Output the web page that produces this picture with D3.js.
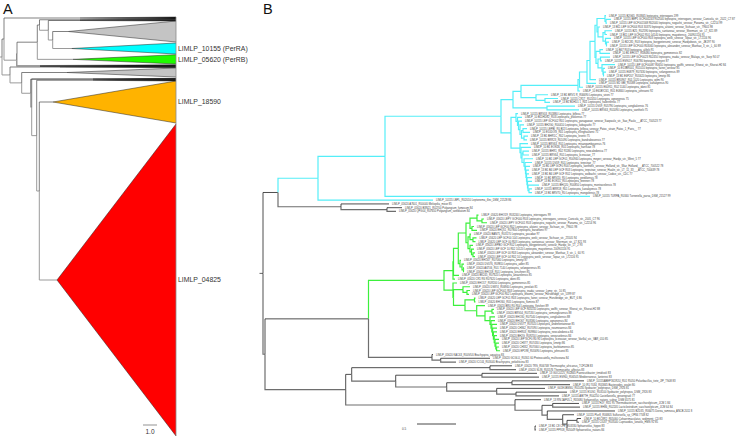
<!DOCTYPE html>
<html>
<head>
<meta charset="utf-8">
<script src="https://cdn.jsdelivr.net/npm/d3@7"></script>
<style>
  html, body { margin: 0; padding: 0; background: #fff; }
  svg { display: block; font-family: "Liberation Sans", sans-serif; }
</style>
</head>
<body>
<div id="chart"></div>
<script>
// Panel A : collapsed tree. Depth unit: 14 = the 1.0 scale bar
const aNodeId = ['r', 't', 's2', 's1', 'p', 'q', 'm', 'n', 'lo', 'h', 'i', 'j', 'k', 'e'];
const aNodeParent = ['', 'r', 't', 's2', 's1', 'p', 'q', 'm', 'r', 'lo', 'h', 'i', 'j', 'k'];
const aNodeDepth = [0, 2, 14.5, 15, 35.3, 37.5, 46.3, 50.7, 8, 19.7, 28.7, 29.7, 34.7, 37.3];

// collapsed clades: parent, apex depth, first and last tip position
const aCladeParent = ['t', 'q', 'm', 'n', 'n', 'p', 's1', 's2', 'lo', 'h', 'j', 'i', 'k', 'e', 'e'];
const aCladeDepth = [78, 78, 78, 66.3, 69.7, 71, 38, 38, 58, 65, 91, 91, 91, 51, 55];
const aCladeTop = [0, 2.3, 3, 4, 26, 37.7, 47.8, 48.8, 49.5, 51, 61.3, 61.5, 62.5, 64, 107];
const aCladeBottom = [2, 3.2, 4, 25, 37, 47, 49.3, 50.2, 50.5, 60, 62.5, 63, 64, 106, 419];
const aCladeFill = ['#111', '#111', '#111', '#c4c4c4', '#00ffff', '#1ffb00', '#111', '#111', '#111', '#c4c4c4', '#111', '#111', '#111', '#ffb300', '#ff0000'];
const aCladeLabel = ['', '', '', '', 'LIMLP_10155 (PerRA)', 'LIMLP_05620 (PerRB)', '', '', '', '', '', '', '', 'LIMLP_18590', 'LIMLP_04825'];
const aTipDepth = 174;

// Panel B : full tree. Depth unit: 39 = the 0.5 scale bar
const bNodeId = ['r', 'u', 'c318', 'c385', 'c501', 'c513', 'c521', 'c578', 'c580', 'c587', 'c590', 'c595', 'c597', 'c605', 'c606', 'c598', 'c603', 'c605b', 'c606b', 'c608', 'c596', 'c600', 'c598b', 'c600c', 'c602d', 'c604', 'c604b', 'c536', 'c545', 'c547', 'c511',
  'a0', 'a1', 'a2', 'a3', 'a4', 'a5', 'a6',
  'b0', 'b1', 'b2', 'b3', 'b4', 'b5', 'b6', 'b7', 'b8', 'b9', 'b10', 'b11', 'b12',
  'k341', 'k387', 'v', 'w368',
  'g444', 'g453', 'g454', 'g458', 'g466', 'g470', 'g477', 'g482', 'g472', 'g468', 'g470c', 'g473', 'g472b', 'g472c', 'g473d', 'g460', 'g462', 'g463',
  'g453c', 'g453b', 'g463b', 'g467', 'g465', 'g475', 'g477b', 'g485', 'g492', 'g490', 'l1', 'l2', 'l3', 'l4', 'l5', 'l6', 'l7', 'l8',
  'b432', 'b441', 'o345', 'o352', 'o490', 'o396', 'o482', 'o447', 'o512', 'o497', 'o516', 'o515', 'o542', 'o553', 'o547', 'o562', 'o567', 'o578', 'o535'];
const bNodeParent = ['', 'r', 'u', 'c318', 'c385', 'c501', 'c513', 'c521', 'c578', 'c580', 'c587', 'c590', 'c595', 'c597', 'c605', 'c597', 'c598', 'c603', 'c603', 'c606b', 'c595', 'c596', 'c596', 'c598b', 'c598b', 'c602d', 'c604', 'c521', 'c536', 'c513', 'c501',
  'c511', 'a0', 'a1', 'a2', 'a3', 'a4', 'a4',
  'c511', 'b0', 'b1', 'b2', 'b2', 'b4', 'b5', 'b6', 'b7', 'b8', 'b9', 'b10', 'b11',
  'u', 'k341', 'r', 'v',
  'w368', 'g444', 'g453', 'g454', 'g458', 'g466', 'g470', 'g477', 'g470', 'g466', 'g468', 'g470c', 'g468', 'g472b', 'g472c', 'g458', 'g460', 'g462',
  'g444', 'g453c', 'g453b', 'g463b', 'g453b', 'g465', 'g465', 'g477b', 'g485', 'g485', 'g490', 'l1', 'l2', 'l3', 'l4', 'l5', 'l6', 'l7',
  'w368', 'b432', 'v', 'o345', 'o352', 'o352', 'o396', 'o396', 'o447', 'o447', 'o497', 'o345', 'o515', 'o542', 'o542', 'o547', 'o562', 'o567', 'o567'];
const bNodeDepth = [0, 15, 55, 122, 238, 250, 258, 315, 316.5, 324, 327, 332, 334, 342, 343, 335, 340, 342, 342.5, 343.5, 333, 337, 335, 337.5, 339, 340, 340.5, 273, 282, 284, 248,
  253, 254.5, 255.5, 257, 258.5, 260, 261,
  257, 258, 259, 260, 261, 262, 262.5, 263, 263.5, 264, 264.5, 265, 266,
  78, 124, 2, 105.5,
  181, 190, 190.5, 195.3, 203, 207, 214, 219, 209, 205, 207, 210, 207, 208.5, 210, 197, 199, 200.5,
  190, 190.5, 200, 204, 202, 211.5, 213.7, 222, 229, 227, 228, 228.8, 229.6, 230.4, 231.2, 232, 232.8, 233.6,
  169, 177.7, 82.7, 88.7, 227, 132.7, 219, 183.7, 249, 233.7, 253, 252, 279, 289.7, 284.3, 299.7, 304, 314, 272];

// one entry per tip, top to bottom
const bLeafParent = ['c605', 'c606', 'c606', 'c598', 'c605b', 'c605b', 'c606b', 'c608', 'c608', 'c600', 'c600', 'c600c', 'c600c', 'c602d', 'c604', 'c604b', 'c604b', 'c590', 'c587', 'c580', 'c578', 'c536', 'c545', 'c545', 'c547', 'c547',
  'a0', 'a1', 'a2', 'a3', 'a5', 'a5', 'a6', 'a6', 'b0', 'b1', 'b3', 'b3', 'b4', 'b5', 'b6', 'b7', 'b8', 'b9', 'b10', 'b11', 'b12', 'b12', 'c385', 'c318', 'k341', 'k387', 'k387',
  'g477', 'g482', 'g482', 'g472', 'g472', 'g470c', 'g473', 'g473', 'g472b', 'g472c', 'g473d', 'g473d', 'g460', 'g462', 'g463', 'g463', 'g454', 'g453', 'g453c',
  'g463b', 'g467', 'g467', 'g475', 'g475', 'g477b', 'g492', 'g492', 'g490', 'l1', 'l2', 'l3', 'l4', 'l5', 'l6', 'l7', 'l8', 'l8',
  'b432', 'b441', 'b441', 'o490', 'o490', 'o482', 'o482', 'o512', 'o512', 'o497', 'o516', 'o516', 'o515', 'o553', 'o553', 'o547', 'o562', 'o578', 'o578', 'o535', 'o535'];
const bLeafDepth = [343, 348, 344, 337, 349, 344, 348, 346, 344, 340, 347, 347, 339, 352, 342, 343, 341, 333, 333, 320, 317, 285, 295, 287, 312, 316,
  255, 259, 259, 261, 264, 267, 265, 264, 265, 268, 266, 266, 270, 269, 267, 266, 266, 269, 269, 276, 269, 269, 327, 170, 126, 139, 133,
  215.5, 221, 224, 211, 214, 208, 213.5, 212.5, 210, 211, 212, 212, 198, 201, 201, 201, 196, 192, 194,
  207, 207, 206, 212.5, 212.5, 222, 231, 231, 232, 232, 234, 234, 234, 234, 236, 236, 236, 237,
  170, 227, 193, 249, 253, 274, 276, 321, 307, 282, 304, 296, 278, 316, 317, 352, 311, 318, 316, 273, 273];
const bLeafLabel = [
  'LIMLP_10155 B2G65_R03845 leptospira_interrogans 199',
  'LIMLP_10155 BEP1 GCF000243 R02040 leptospira_interrogans_serovar_Canicola_str._2022_CT 87',
  'LIMLP_10155 LEP GCF001568 R02040 leptospira_noguchii_serovar_Panama_str._CZ214 99',
  'LIMLP_13 B11 LEP GCF004 R03 30370 leptospira_alstonii_serovar_Sichuan_str._79601 98',
  'LIMLP_10155 B25_R02590 leptospira_santarosai_serovar_Shermani_str._LT_821 89',
  'LIMLP_13 B11 LEP GCF002 R01 04140 leptospira_mayottensis_200901116 91',
  'LIMLP_10155 LEP GCF000 R03 leptospira_weilii_serovar_Topaz_str._LT2116 96',
  'LIMLP_10 B2C85_R03 leptospira_borgpetersenii_serovar_Hardjobovis_str._JB197 90',
  'LIMLP_10155 LEP GCF000 R03060 leptospira_alexanderi_serovar_Manhao_3_str._L_60 89',
  'LIMLP_10 B47 R03 leptospira_alifelii 91',
  'LIMLP_10 B1 EHO17_R08480 leptospira_gomenensis 82',
  'LIMLP_10155 LEP GCF0023 R02450 leptospira_inadai_serovar_Malaya_str._Sarp 94 07',
  'LIMLP_10155 ES9017_R06780 leptospira_meyeri 87',
  'LIMLP_10155 LEP GCF00087 R0650 leptospira_wolffii_serovar_Khorat_str._Khorat-H2 84',
  'LIMLP_10 E13BR001_R01010 leptospira_fainei_serovar 85',
  'LIMLP_10155 E6879_R07430 leptospira_selangorensis 89',
  'LIMLP_13 B1 E6P207_R05620 leptospira_kmetyi 86',
  'LIMLP_10155 BR0967_R01 1020 Leptospira_wilmi 90',
  'LIMLP_10155 M2 GBI_R0588 Leptospira_kanakyensis 90',
  'LIMLP_10155 E60911_R02 5140 Leptospira_idonii 81',
  'LIMLP_10 E61BY241_R01 E0840 Leptospira_johnsonii 92',
  'LIMLP_13 B1 BRV1 R_R06690 Leptospira_sironi 77',
  'LIMLP_10155 CR1T_R02450 Leptospira_ognonensis 75',
  'LIMLP_13 B1 B1HD1 1_R01 Leptospira_halleinensis 77',
  'LIMLP_10155 DV09_R05790 Leptospira_congkakensis 76',
  'LIMLP_10155 BRV63_R01090 Leptospira_vanthielii 75',
  'LIMLP_10155 BRV03_R01880 Leptospira_biflexa 77',
  'LIMLP_10 B11HD82_R03 Leptospira_jelokensis 77',
  'LIMLP_10155 LEP GCF002 R01 Leptospira_yanagawae_serovar_Saopaulo_str._Sao_Paulo___ATCC_700523 77',
  'LIMLP_10155 BH2G0_R00410 Leptospira_kobayashii 77',
  'LIMLP_10155 LEPBI_R0 B13 Leptospira_biflexa_serovar_Patoc_strain_Patoc_1_Paris__ 77',
  'LIMLP_10 E10DOG_R01 Leptospira_ellinghausenii 75',
  'LIMLP_13 B1 BHR1C_R02 Leptospira_levettii 75',
  'LIMLP_10155 BRR23_R01090 Leptospira_bandrabouensis 77',
  'LIMLP_10155 BRV63_R01 Leptospira_mtsangambouensis 76',
  'LIMLP_10 B1 EOK06_R01 Leptospira_harrisiae 78',
  'LIMLP_10155 BHR1_R02 91180 Leptospira_neocaledonica 77',
  'LIMLP_10155 BRV64_R01 Leptospira_licerasiae_77',
  'LIMLP_10 B1 LEP GCF01_R00940 Leptospira_meyeri_serovar_Hardjo_str._Went_5 77',
  'LIMLP_10155 DV09_R01 Leptospira_terpstrae_77',
  'LIMLP_10 B1 LEP GCF0 R00 Leptospira_vanthielii_serovar_Holland_str._Waz_Holland___ATCC_700522 78',
  'LIMLP_13 B1 B4 LEP GCF R03 Leptospira_terpstrae_serovar_Hualin_str._LT_11_33___ATCC_700639 78',
  'LIMLP_13 B1 B4 LEP GCF R02 Leptospira_wolbachii_serovar_Codice_str._CDC 77',
  'LIMLP_10 B1 BRV20_R0 Leptospira_perdikensis 78',
  'LIMLP_13 B1 EOK51_R0 Leptospira_brenneri 78',
  'LIMLP_10155 BHQ20_R00850 Leptospira_montravelensis 78',
  'LIMLP_10155 BRR18_R01 Leptospira_kanakyensis 78',
  'LIMLP_13 B1 BRV70_R0 Leptospira_mongolensis 78',
  'LIMLP_10155 TURPA_R0340 Turneriella_parva_DSM_21527 99',
  'LIMLP_10155 LBPL_R02010 Leptonema_illini_DSM_21528 86',
  'LIMLP_05620 A7601_R00040 Meliopilia_mixor 85',
  'LIMLP_05620 B3N21_R02700 Polyangium_fumosum 84',
  'LIMLP_05620 QPG04_R07650 Polyangium_sorediatum 84',
  'LIMLP_05620 EHO19_R03240 Leptospira_interrogans 99',
  'LIMLP_05620 LEPY GCF000 R03 Leptospira_interrogans_serovar_Canicola_str._2005_CT 96',
  'LIMLP_05620 LEPY GCF001 R03 Leptospira_noguchii_serovar_Panama_str._CZ214 96',
  'LIMLP_05620 LEP GCF00 R02 Leptospira_alstonii_serovar_Sichuan_str._79601 98',
  'LIMLP_05620 EHQ51_R07800 Leptospira_barantonii 97',
  'LIMLP_05620 BAN75_R03170 Leptospira_yasudae 97',
  'LIMLP_05620 LEP GCF00 104 Leptospira_weilii_serovar_Sichuan_str._25505 94',
  'LIMLP_05620 LEP GCF 00 R03 Leptospira_santarosai_serovar_Shermani_str._LT 821 93',
  'LIMLP_05620 LEPBO GCF R02 Leptospira_borgpetersenii_serovar_Hardjo_str._LT_2 93',
  'LIMLP_05620 LEP GCF 10 R02 10120 Leptospira_mayottensis 200901116 91',
  'LIMLP_05620 LEP GCF 00 R03 Leptospira_alexanderi_serovar_Manhao_3_str._L_60 91',
  'LIMLP_05620 LEP GCF 04 R02 10 Leptospira_weilii_serovar_Topaz_str._LT2116 91',
  'LIMLP_05620 EHO47_R07060 Leptospira_kmetyi 87',
  'LIMLP_05620 DV076_R09810 Leptospira_adleri 85',
  'LIMLP_05620 A6T06_R01 7140 Leptospira_selangorensis 85',
  'LIMLP_05620 EHO18_R01 Leptospira_kirschneri 85',
  'LIMLP_05620 BK245_R07620 Leptospira_ainazelensis 85',
  'LIMLP_05620 CR1 R6 R07620 Leptospira_idonii 85',
  'LIMLP_05620 EHO17_R09200 Leptospira_gomenensis 85',
  'LIMLP_05620 DS874_R06940 Leptospira_perolatii 81',
  'LIMLP_05620 LEP GCF001 R03 Leptospira_inadai_serovar_Lyme_str._10 85',
  'LIMLP_05620 LEP GCF00 R02 Leptospira_broomii_serovar_Hurstbridge_str._5399 87',
  'LIMLP_05620 LEP GCF01 R03 Leptospira_fainei_serovar_Hurstbridge_str._BUT_6 86',
  'LIMLP_05620 EHO60_R05 Leptospira_fluminis 87',
  'LIMLP_05620 BR0 R0 R04 Leptospira_fletcheri 89',
  'LIMLP_05620 LEP GCF R03250 Leptospira_wolffii_serovar_Khorat_str._Khorat-H2 88',
  'LIMLP_05620 BRV04_R07130 Leptospira_semungkisensis 88',
  'LIMLP_05620 EHO30_R07540 Leptospira_congkakensis 88',
  'LIMLP_05620 EHO67_R03580 Leptospira_ognonensis 84',
  'LIMLP_05620 DV077_R07020 Leptospira_andrefontaineae 85',
  'LIMLP_05620 CH362_R07090 Leptospira_noumeaensis 84',
  'LIMLP_05620 EHR03_R09860 Leptospira_neocaledonica 84',
  'LIMLP_05620 BH2G_R09250 Leptospira_venezuelensis 84',
  'LIMLP_05620 LEP GCF0 R0 90 Leptospira_licerasiae_serovar_Varillal_str._VAR_010 85',
  'LIMLP_05620 CH377_R07430 Leptospira_kmetyi 86',
  'LIMLP_05620 CH332_R07060 Leptospira_barbitamensis 85',
  'LIMLP_05620 EP198_R05690 Leptospira_johnsonii 85',
  'LIMLP_05620 KAC63_R00VU0 Brachyspira_aquatica 83',
  'LIMLP_05620 GCGLU_R0301 60 Proteocatella_multivorana 84',
  'LIMLP_05620 ICOJ4_R03040 Brachyspira_pekoliticina 83',
  'LIMLP_05620 TRS_R06748 Thermosipho_africanus_TCF52B 83',
  'LIMLP_05620 SLIN_R05576 Thermosipho_affectus 83',
  'LIMLP_13 GUC0225_R02845 Paenicutibacter_timidivoli 83',
  'LIMLP_10155 ES960_R06505 Mediterraneus_lanterinii 83',
  'LIMLP_10155ABEP361RJU_R01 95050 Polaribacillus_tiete_JIP_TS08 83',
  'LIMLP_10 IRJ 7034_R05845 Bacteroides_oxalet 80',
  'LIMLP_G01E0BSNU_R01030 Ilyobacter_polytropus_DSM_2926 81',
  'LIMLP_10155 E10S1_R03100 Ilyobacter_polytropus_DSM_2926 83',
  'LIMLP_10155 AB7TH_R04250 Castellaniella_ginsengisoli 77',
  'LIMLP_13 RN.5AP05.1_R05680 Sphaerotilus_natans_subsp_DSM 6575 81',
  'LIMLP_10155 HJY_R01 95 Thermobacterium_saccharolyticum_JCM 1 84',
  'LIMLP_10155 EH86_R02205 Lacticlostridium_saccharolyticum_JCM 64 84',
  'LIMLP_10155 B2D35_R06475 Dorea_ramnosa_ANCB 2011 8',
  'LIMLP_10155 Plur8_R06805 Sulfuricella_sp_OP84 7748 82',
  'LIMLP_10 B1C8R2_R05060 Cohaerimaculatus_sedimenti_CD 83',
  'LIMLP_10155 CIU37_R03540 Cupriavidus_lunatus_HMS 92 85',
  'LIMLP_13 B1 C8 CFE_R03330 Sphaerotilus_hippei 83',
  'LIMLP_10155 PP9J8_R05049 Sphaerotilus_natans 84'];
// scale bars
const aBarLength = 14;
const aBarLabel = '1.0';
const bBarLength = 39;
const bBarLabel = '0.5';

const width = 737;
const height = 437;
const svg = d3.select('#chart').append('svg').attr('width', width).attr('height', height);

// fonction commune : stratify, then node height = middle of its children
function layoutTree(rows, y) {
  const root = d3.stratify().id(d => d.id).parentId(d => d.parent)(rows);
  root.eachAfter(n => {
    if (n.children) {
      const e = d3.extent(n.children, c => c.py);
      n.py = (e[0] + e[1]) / 2;
    } else {
      n.py = y(n.data.row);
    }
  });
  return root;
}

function elbow(n, x) {
  const px = x(n.parent.data.depth);
  // a tip drawn left of its parent keeps only the vertical part
  const end = n.data.depth > n.parent.data.depth ? `H${x(n.data.depth)}` : '';
  return `M${px},${n.parent.py}V${n.py}${end}`;
}

function drawBranches(g, root, x, style) {
  const links = root.descendants().filter(n => n.parent);
  g.append('g').attr('fill', 'none').selectAll('path')
    .data(links)
    .enter().append('path')
    .attr('d', n => elbow(n, x))
    .attr('stroke', n => style(n).color)
    .attr('stroke-width', n => style(n).width);
}

// ---- Panel A
const aX = d3.scaleLinear().domain([0, 174]).range([2, 176]);
const aY = d3.scaleLinear().domain([0, 420]).range([17, 437]);
const aRows = aNodeId.map((id, i) => ({ id, parent: aNodeParent[i] || null, depth: aNodeDepth[i] }))
  .concat(aCladeParent.map((p, i) => ({
    id: 'w' + i, parent: p, depth: aCladeDepth[i],
    row: (aCladeTop[i] + aCladeBottom[i]) / 2
  })));
const aRoot = layoutTree(aRows, aY);
const gA = svg.append('g');
drawBranches(gA, aRoot, aX, n => n.py > n.parent.py
  ? { color: '#9a9a9a', width: 1 }
  : { color: '#4a4a4a', width: 0.7 });
gA.append('line')
  .attr('x1', aX(-2)).attr('x2', aX(0))
  .attr('y1', aRoot.py).attr('y2', aRoot.py)
  .attr('stroke', '#777').attr('stroke-width', 0.7);

// triangles
const aNodes = new Map(aRoot.descendants().map(n => [n.id, n]));
const clades = aCladeParent.map((p, i) => ({
  apexX: aX(aCladeDepth[i]), apexY: aNodes.get('w' + i).py,
  top: aY(aCladeTop[i]), bottom: aY(aCladeBottom[i]),
  fill: aCladeFill[i], label: aCladeLabel[i]
}));
gA.selectAll('path.clade')
  .data(clades)
  .enter().append('path')
  .attr('class', 'clade')
  .attr('d', d => `M${d.apexX},${d.apexY}L${aX(aTipDepth)},${d.top}V${d.bottom}Z`)
  .attr('fill', d => d.fill);
gA.selectAll('path.side')
  .data(clades)
  .enter().append('path')
  .attr('class', 'side')
  .attr('d', d => `M${aX(aTipDepth)},${d.top}L${d.apexX},${d.apexY}L${aX(aTipDepth)},${d.bottom}`)
  .attr('fill', 'none').attr('stroke', '#222').attr('stroke-width', 0.5);
gA.append('line')
  .attr('x1', aX(aTipDepth)).attr('x2', aX(aTipDepth))
  .attr('y1', aY(0)).attr('y2', aY(419))
  .attr('stroke', '#8a8a8a').attr('stroke-width', 0.8);
gA.selectAll('text.clade-label')
  .data(clades.filter(d => d.label))
  .enter().append('text')
  .attr('class', 'clade-label')
  .attr('x', aX(aTipDepth) + 2)
  .attr('y', d => d.apexY + 2.4)
  .attr('font-size', 6.9).attr('fill', '#333')
  .text(d => d.label);

// 1.0 bar
const aBarX = d3.scaleLinear().domain([0, aBarLength]).range([143, 157]);
gA.append('line')
  .attr('x1', aBarX(0)).attr('x2', aBarX(aBarLength))
  .attr('y1', 425).attr('y2', 425)
  .attr('stroke', '#666').attr('stroke-width', 0.7);
gA.append('text')
  .attr('x', aBarX(aBarLength / 2)).attr('y', 433.5)
  .attr('text-anchor', 'middle').attr('font-size', 6.5).attr('fill', '#333')
  .text(aBarLabel);

// ---- Panel B
const bX = d3.scaleLinear().domain([0, 474]).range([263, 737]);
const bY = d3.scaleLinear().domain([0, 110]).range([15.7, 429.8]);
const bRows = bNodeId.map((id, i) => ({ id, parent: bNodeParent[i] || null, depth: bNodeDepth[i] }))
  .concat(bLeafParent.map((p, i) => ({ id: 'L' + i, parent: p, depth: bLeafDepth[i], row: i })));
const bRoot = layoutTree(bRows, bY);
const gB = svg.append('g');
const inClade = (n, id) => n.ancestors().some(a => a.id === id);
drawBranches(gB, bRoot, bX, n => {
  if (inClade(n, 'c318')) return { color: '#55eef8', width: 1.2 };
  if (inClade(n, 'g444')) return { color: '#3df03d', width: 1.2 };
  return n.py > n.parent.py ? { color: '#6e6e6e', width: 1.2 } : { color: '#222', width: 0.8 };
});
gB.append('line')
  .attr('x1', bX(-3.5)).attr('x2', bX(0))
  .attr('y1', bRoot.py).attr('y2', bRoot.py)
  .attr('stroke', '#222').attr('stroke-width', 0.7);

gB.selectAll('text.tip')
  .data(bRoot.leaves())
  .enter().append('text')
  .attr('class', 'tip')
  .attr('x', n => bX(n.data.depth) + 3)
  .attr('y', n => n.py + 1)
  .attr('font-size', 2.7).attr('fill', '#444')
  .text(n => bLeafLabel[n.data.row]);

// 0.5 bar
gB.append('line')
  .attr('x1', bX(154)).attr('x2', bX(154 + bBarLength))
  .attr('y1', 424).attr('y2', 424)
  .attr('stroke', '#333').attr('stroke-width', 0.9);
gB.append('text')
  .attr('x', bX(139)).attr('y', 430)
  .attr('font-size', 3).attr('fill', '#444')
  .text(bBarLabel);

// panel letters
svg.selectAll('text.letter')
  .data([['A', 3], ['B', 263]])
  .enter().append('text')
  .attr('class', 'letter')
  .attr('x', d => d[1]).attr('y', 13.5)
  .attr('font-size', 14.5).attr('fill', '#111')
  .text(d => d[0]);
</script>
</body>
</html>
